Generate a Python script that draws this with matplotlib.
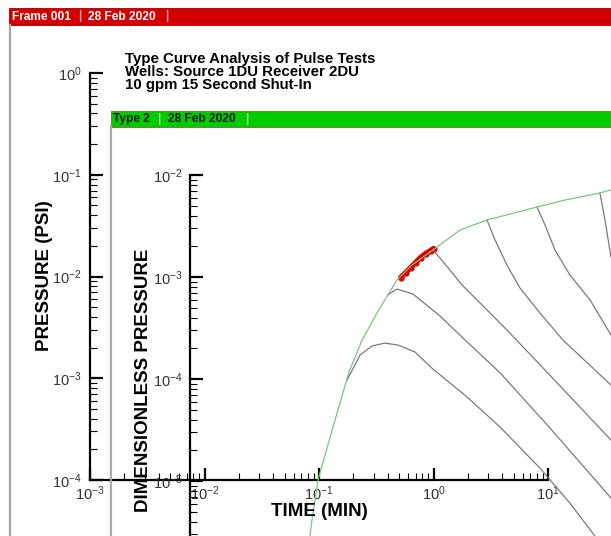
import matplotlib.pyplot as plt
from matplotlib.lines import Line2D
from matplotlib.patches import Rectangle

plt.rcParams['font.family'] = ['Liberation Sans', 'DejaVu Sans']
plt.rcParams['mathtext.fontset'] = 'custom'
plt.rcParams['mathtext.rm'] = 'Liberation Sans'
plt.rcParams['mathtext.default'] = 'regular'

# measured pulse response (time in minutes, pressure in psi)
data_time = [0.516, 0.571, 0.631, 0.697, 0.770, 0.852, 0.942, 1.00]
data_pressure = [0.00977, 0.01094, 0.01225, 0.01371, 0.01535, 0.01680, 0.01799, 0.01882]

# type curves (dimensionless pressure)
envelope_t = [0.0851, 0.0887, 0.100, 0.104, 0.135, 0.186, 0.242, 0.326, 0.486,
              0.656, 1.00, 1.72, 2.95, 8.02, 14.1, 28.3, 35.3]
envelope_p = [2.89e-6, 4.15e-6, 1.02e-5, 1.20e-5, 3.38e-5, 1.17e-4, 2.41e-4, 4.44e-4,
              9.35e-4, 1.31e-3, 1.84e-3, 2.89e-3, 3.62e-3, 4.85e-3, 5.69e-3, 6.67e-3, 7.13e-3]

low_hump_t = [0.179, 0.232, 0.295, 0.383, 0.497, 0.697, 1.00, 1.977, 3.83, 8.51, 15.5, 25.6]
low_hump_p = [9.77e-5, 1.72e-4, 2.11e-4, 2.25e-4, 2.15e-4, 1.84e-4, 1.25e-4, 6.67e-5,
              3.38e-5, 1.34e-5, 6.08e-6, 2.89e-6]

high_hump_t = [0.406, 0.486, 0.670, 1.151, 1.824, 3.83, 10.4, 35.3]
high_hump_p = [6.67e-4, 7.62e-4, 6.81e-4, 4.15e-4, 2.52e-4, 1.15e-4, 3.31e-5, 6.81e-6]

branch_a_t = [1.00, 1.151, 1.406, 1.786, 2.415, 4.40, 10.4, 35.3]
branch_a_p = [1.84e-3, 1.53e-3, 1.17e-3, 8.36e-4, 5.96e-4, 3.02e-4, 1.09e-4, 2.52e-5]

branch_b_t = [2.95, 3.46, 4.40, 5.71, 8.51, 13.5, 35.3]
branch_b_p = [3.62e-3, 2.31e-3, 1.31e-3, 7.80e-4, 4.44e-4, 2.41e-4, 8.73e-5]

branch_c_t = [8.02, 9.42, 11.5, 15.5, 23.2, 35.3]
branch_c_p = [4.85e-3, 3.24e-3, 1.84e-3, 1.05e-3, 5.96e-4, 2.70e-4]

branch_d_t = [28.3, 31.3, 35.3]
branch_d_p = [6.67e-3, 3.62e-3, 1.57e-3]

title = 'Type Curve Analysis of Pulse Tests\nWells: Source 1DU Receiver 2DU\n10 gpm 15 Second Shut-In'

W, H = 611, 536
fig = plt.figure(figsize=(W / 100, H / 100), dpi=100)


def fx(px):
    return px / W


def fy(py):
    return 1 - py / H


def style_axis(ax):
    ax.set_xscale('log')
    ax.set_yscale('log')
    ax.set_facecolor('none')
    for side in ('top', 'right'):
        ax.spines[side].set_visible(False)
    for side in ('left', 'bottom'):
        ax.spines[side].set_linewidth(1.6)
    ax.tick_params(which='both', direction='in', top=False, right=False,
                   labelsize=10.5, labelcolor='#333333')
    ax.tick_params(which='major', length=9, width=1.6)
    ax.tick_params(which='minor', length=5, width=0.8)
    ax.tick_params(axis='y', pad=6)
    ax.tick_params(axis='x', pad=3)


# frame headers and borders
fig.patches.append(Rectangle((fx(9), fy(25)), 1, 17 / H, transform=fig.transFigure,
                             facecolor='#d40000', edgecolor='#9a0000', lw=0.6))
fig.patches.append(Rectangle((fx(111), fy(127)), 1, 16 / H, transform=fig.transFigure,
                             facecolor='#00cc00', edgecolor='#6a8a3a', lw=0.8))
fig.lines.append(Line2D([fx(10), fx(10)], [fy(25), 0], transform=fig.transFigure,
                        color='#a8a8a8', lw=1.6))
fig.lines.append(Line2D([fx(111), fx(111)], [fy(127), 0], transform=fig.transFigure,
                        color='#a8a8a8', lw=1.6))

hdr = dict(fontsize=8.6, fontweight='bold', va='center')
fig.text(fx(12), fy(16.5), 'Frame 001', color='white', **hdr)
fig.text(fx(78), fy(16.5), '|', color='#f0a0a0', **hdr)
fig.text(fx(88), fy(16.5), '28 Feb 2020', color='white', **hdr)
fig.text(fx(165), fy(16.5), '|', color='#f0a0a0', **hdr)
fig.text(fx(113), fy(119), 'Type 2', color='#1a1a1a', **hdr)
fig.text(fx(157), fy(119), '|', color='#90e090', **hdr)
fig.text(fx(168), fy(119), '28 Feb 2020', color='#1a1a1a', **hdr)
fig.text(fx(245), fy(119), '|', color='#90e090', **hdr)

fig.text(fx(125), fy(52), title, fontsize=10.8, fontweight='bold', va='top',
         linespacing=0.9)

# outer frame: measured data
ax = fig.add_axes([fx(90), fy(480), fx(548) - fx(90), fy(73) - fy(480)])
style_axis(ax)
ax.set_xlim(1e-3, 1e1)
ax.set_ylim(1e-4, 1e0)
ax.plot(data_time, data_pressure, color='#e00000', lw=3.8, marker='o', ms=3.5,
        solid_capstyle='round')
fig.text(fx(319), fy(511), 'TIME (MIN)', fontsize=13.5, fontweight='bold',
         ha='center', va='center')
fig.text(fx(45), fy(276), 'PRESSURE (PSI)', fontsize=13.5, fontweight='bold',
         ha='center', va='center', rotation=90)

# inner frame: type curves
ax2 = fig.add_axes([fx(190), 0, 1 - fx(190), fy(175)])
style_axis(ax2)
ax2.spines['bottom'].set_visible(False)
ax2.tick_params(axis='x', which='both', bottom=False, labelbottom=False)
ax2.tick_params(axis='y', pad=5)
ax2.set_xlim(10 ** -2.113, 10 ** 1.548)
ax2.set_ylim(10 ** -5.539, 1e-2)

grey = '#7a7a7a'
for t, p in [(low_hump_t, low_hump_p), (high_hump_t, high_hump_p),
             (branch_a_t, branch_a_p), (branch_b_t, branch_b_p),
             (branch_c_t, branch_c_p), (branch_d_t, branch_d_p)]:
    ax2.plot(t, p, color=grey, lw=0.9)
ax2.plot(envelope_t, envelope_p, color='#7cc47c', lw=0.9)

fig.text(fx(144), fy(380), 'DIMENSIONLESS PRESSURE', fontsize=13.5, fontweight='bold',
         ha='center', va='center', rotation=90)

fig.savefig('out.png', dpi=100)
